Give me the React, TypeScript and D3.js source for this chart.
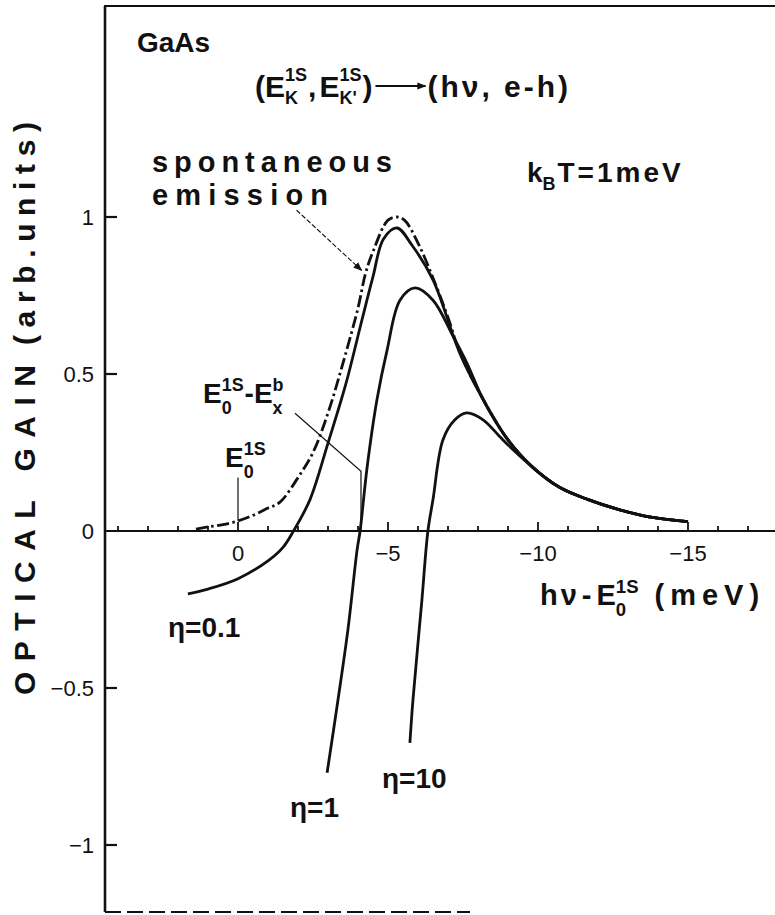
import React, { useEffect, useRef } from 'react';
import * as d3 from 'd3';

const W = 775;
const H = 915;
const FONT = '"Liberation Sans", Arial, sans-serif';

// photon energy h\u03bd - E0^1S (meV) and optical gain (arb. units)
const spontX = [1.4, 1.0, 0.5, 0, -0.5, -1.0, -1.4, -2.0, -2.5, -3.0, -3.5, -4.0, -4.25, -4.5, -5.0, -5.3, -5.55, -6.0, -6.5, -7.0, -7.4, -8.2, -9.0, -9.8, -10.7, -11.7, -12.7, -13.7, -15.0];
const spontY = [0.006, 0.013, 0.02, 0.032, 0.05, 0.073, 0.092, 0.17, 0.25, 0.376, 0.535, 0.71, 0.82, 0.89, 0.99, 1.0, 0.99, 0.917, 0.806, 0.68, 0.567, 0.415, 0.29, 0.205, 0.14, 0.099, 0.068, 0.045, 0.03];

const eta01X = [1.67, 1.0, 0.0, -1.0, -1.5, -1.85, -2.4, -3.0, -3.6, -4.1, -4.5, -4.85, -5.3, -5.8, -6.5, -7.4, -8.2, -9.0, -9.8, -10.7, -11.7, -12.7, -13.7, -15.0];
const eta01Y = [-0.2, -0.185, -0.152, -0.095, -0.052, 0, 0.1, 0.28, 0.47, 0.66, 0.81, 0.93, 0.965, 0.91, 0.8, 0.565, 0.414, 0.29, 0.205, 0.14, 0.099, 0.068, 0.045, 0.03];

const eta1X = [-2.97, -3.33, -3.67, -3.97, -4.07, -4.3, -4.63, -4.97, -5.4, -5.9, -6.5, -7.17, -7.63, -8.2, -9.0, -9.8, -10.7, -11.7, -12.7, -13.7, -15.0];
const eta1Y = [-0.77, -0.54, -0.31, -0.06, 0, 0.2, 0.417, 0.576, 0.735, 0.774, 0.735, 0.62, 0.535, 0.413, 0.29, 0.205, 0.14, 0.099, 0.068, 0.045, 0.03];

const eta10X = [-5.73, -5.83, -6.13, -6.33, -6.5, -6.83, -7.23, -7.63, -8.17, -8.73, -9.07, -9.8, -10.7, -11.7, -12.7, -13.7, -15.0];
const eta10Y = [-0.675, -0.54, -0.22, 0, 0.1, 0.29, 0.354, 0.376, 0.354, 0.3, 0.268, 0.205, 0.14, 0.099, 0.068, 0.045, 0.03];

const xTickLabels = [0, -5, -10, -15];
const yTickValues = [1, 0.5, -0.5, -1];
const yLabelValues = [1, 0.5, 0, -0.5, -1];
const yTickLabels = ['1', '0.5', '0', '-0.5', '-1'];

// leader lines (data units)
const e0Leader = [[0, 0.17], [0, 0.033]];
const exbLeader = [[-1.9, 0.375], [-4.1, 0.19], [-4.1, 0.0]];
const spontArrow = [[-1.95, 1.022], [-4.12, 0.83]];

type Part = { t?: string; sup?: string; sub?: string; ls?: number; gap?: number };

function formula(g: any, x: number, y: number, parts: Part[], size: number, sc = 0.64, supDy = 0.43, subDy = 0.39) {
  let cx = x;
  const small = size * sc;
  for (const p of parts) {
    if (p.t !== undefined) {
      const el = g.append('text')
        .attr('x', cx).attr('y', y)
        .attr('font-size', size)
        .attr('letter-spacing', p.ls || 0)
        .text(p.t);
      cx += el.node().getComputedTextLength() + (p.gap || 0);
    } else {
      let w = 0;
      if (p.sup) {
        const s = g.append('text').attr('x', cx).attr('y', y - size * supDy)
          .attr('font-size', small).text(p.sup);
        w = Math.max(w, s.node().getComputedTextLength());
      }
      if (p.sub) {
        const s = g.append('text').attr('x', cx).attr('y', y + size * subDy)
          .attr('font-size', small).text(p.sub);
        w = Math.max(w, s.node().getComputedTextLength());
      }
      cx += w + (p.gap || 1);
    }
  }
  return cx;
}

export default function App() {
  const svgRef = useRef<SVGSVGElement>(null);

  useEffect(() => {
    if (!svgRef.current) return;
    const svg = d3.select(svgRef.current);
    svg.selectAll('*').remove();

    const x = d3.scaleLinear().domain([0, -15]).range([238, 688]);
    const y = d3.scaleLinear().domain([0, 1]).range([531, 217]);
    const ink = '#111';

    const defs = svg.append('defs');
    defs.append('marker')
      .attr('id', 'head')
      .attr('viewBox', '0 0 10 10')
      .attr('refX', 9).attr('refY', 5)
      .attr('markerWidth', 9).attr('markerHeight', 9)
      .attr('markerUnits', 'userSpaceOnUse')
      .attr('orient', 'auto')
      .append('path').attr('d', 'M0,1 L10,5 L0,9 Z').attr('fill', ink);

    const root = svg.append('g').attr('font-family', FONT).attr('font-weight', 'bold').attr('fill', ink);

    // frame
    root.append('line').attr('x1', 105).attr('x2', 105).attr('y1', 6).attr('y2', 912)
      .attr('stroke', ink).attr('stroke-width', 2.6);
    root.append('line').attr('x1', 104).attr('x2', W).attr('y1', 6).attr('y2', 6)
      .attr('stroke', ink).attr('stroke-width', 2.2);
    root.append('line').attr('x1', 105).attr('x2', 470).attr('y1', 912).attr('y2', 912)
      .attr('stroke', ink).attr('stroke-width', 2).attr('stroke-dasharray', '16 6');

    // x axis at zero gain
    root.append('line').attr('x1', 105).attr('x2', W).attr('y1', y(0)).attr('y2', y(0))
      .attr('stroke', ink).attr('stroke-width', 2.2);
    const xTicks = d3.range(4, -18, -1);
    root.append('g').selectAll('line').data(xTicks).enter().append('line')
      .attr('x1', d => x(d)).attr('x2', d => x(d))
      .attr('y1', y(0)).attr('y2', d => y(0) - (d % 5 === 0 ? 9 : 5))
      .attr('stroke', ink).attr('stroke-width', 1.8);
    root.append('g').selectAll('text').data(xTickLabels).enter().append('text')
      .attr('x', d => x(d)).attr('y', y(0) + 30)
      .attr('text-anchor', 'middle')
      .attr('font-size', 22).attr('font-weight', 'normal')
      .text(d => (d < 0 ? '\u2212' + Math.abs(d) : String(d)));

    // y ticks
    root.append('g').selectAll('line').data(yTickValues).enter().append('line')
      .attr('x1', 105).attr('x2', 117).attr('y1', d => y(d)).attr('y2', d => y(d))
      .attr('stroke', ink).attr('stroke-width', 2.2);
    root.append('g').selectAll('text').data(yLabelValues).enter().append('text')
      .attr('x', 94).attr('y', d => y(d)).attr('dy', '0.35em')
      .attr('text-anchor', 'end')
      .attr('font-size', 22).attr('font-weight', 'normal')
      .text((d, i) => yTickLabels[i].replace('-', '\u2212'));

    // y title
    root.append('text')
      .attr('transform', 'translate(35,695) rotate(-90)')
      .attr('font-size', 30)
      .attr('textLength', 330).attr('lengthAdjust', 'spacing')
      .text('OPTICAL GAIN');
    root.append('text')
      .attr('transform', 'translate(35,345) rotate(-90)')
      .attr('font-size', 30)
      .attr('textLength', 223).attr('lengthAdjust', 'spacing')
      .text('(arb.units)');

    // curves
    const line = d3.line<[number, number]>()
      .x(d => x(d[0])).y(d => y(d[1]))
      .curve(d3.curveCatmullRom.alpha(0.5));
    const zip = (xs: number[], ys: number[]) => xs.map((v, i) => [v, ys[i]] as [number, number]);

    const solid = [zip(eta01X, eta01Y), zip(eta1X, eta1Y), zip(eta10X, eta10Y)];
    root.append('g').selectAll('path').data(solid).enter().append('path')
      .attr('d', d => line(d))
      .attr('fill', 'none').attr('stroke', ink).attr('stroke-width', 2.8)
      .attr('stroke-linejoin', 'round');
    root.append('path')
      .attr('d', line(zip(spontX, spontY)))
      .attr('fill', 'none').attr('stroke', ink).attr('stroke-width', 2.8)
      .attr('stroke-dasharray', '12 3.5 2.5 3.5');

    // leaders
    const plain = d3.line<number[]>().x(d => x(d[0])).y(d => y(d[1]));
    root.append('path').attr('d', plain(e0Leader)).attr('fill', 'none')
      .attr('stroke', ink).attr('stroke-width', 1.2);
    root.append('path').attr('d', plain(exbLeader)).attr('fill', 'none')
      .attr('stroke', ink).attr('stroke-width', 1.2);
    root.append('path').attr('d', plain(spontArrow)).attr('fill', 'none')
      .attr('stroke', ink).attr('stroke-width', 1.1)
      .attr('stroke-dasharray', '5 2')
      .attr('marker-end', 'url(#head)');

    // labels
    root.append('text').attr('x', 137).attr('y', 52).attr('font-size', 28).text('GaAs');

    const tEnd = formula(root, 255, 97, [
      { t: '(' }, { t: 'E' }, { sup: '1S', sub: 'K', gap: 0 }, { t: ',', gap: 3 },
      { t: 'E' }, { sup: '1S', sub: "K'", gap: 0 }, { t: ')' },
    ], 30, 0.6, 0.55, 0.22);
    root.append('line').attr('x1', tEnd + 3).attr('x2', tEnd + 53).attr('y1', 86).attr('y2', 86)
      .attr('stroke', ink).attr('stroke-width', 2.2).attr('marker-end', 'url(#head)');
    formula(root, tEnd + 55, 97, [{ t: '(h\u03bd, e-h)', ls: 3 }], 30);

    root.append('text').attr('x', 152).attr('y', 172).attr('font-size', 29)
      .attr('textLength', 240).attr('lengthAdjust', 'spacing').text('spontaneous');
    root.append('text').attr('x', 152).attr('y', 205).attr('font-size', 29)
      .attr('textLength', 176).attr('lengthAdjust', 'spacing').text('emission');

    formula(root, 527, 182, [{ t: 'k' }, { sub: 'B', gap: 2 }, { t: 'T=1meV', ls: 3 }], 28, 0.64, 0.4, 0.3);

    formula(root, 203, 403, [
      { t: 'E' }, { sup: '1S', sub: '0', gap: 0 }, { t: '-' }, { t: 'E' }, { sup: 'b', sub: 'x' },
    ], 28);
    formula(root, 225, 467, [{ t: 'E' }, { sup: '1S', sub: '0' }], 28);

    formula(root, 540, 605, [
      { t: 'h\u03bd', ls: 3, gap: 2 }, { t: '-', gap: 5 }, { t: 'E' }, { sup: '1S', sub: '0', gap: 16 },
      { t: '(meV)', ls: 6 },
    ], 29);

    root.append('text').attr('x', 168).attr('y', 637).attr('font-size', 28).text('\u03b7=0.1');
    root.append('text').attr('x', 290).attr('y', 817).attr('font-size', 28).text('\u03b7=1');
    root.append('text').attr('x', 382).attr('y', 788).attr('font-size', 28).text('\u03b7=10');
  }, []);

  return (
    <svg
      ref={svgRef}
      width={W}
      height={H}
      style={{ position: 'absolute', left: 0, top: 0, background: '#fff' }}
    />
  );
}
